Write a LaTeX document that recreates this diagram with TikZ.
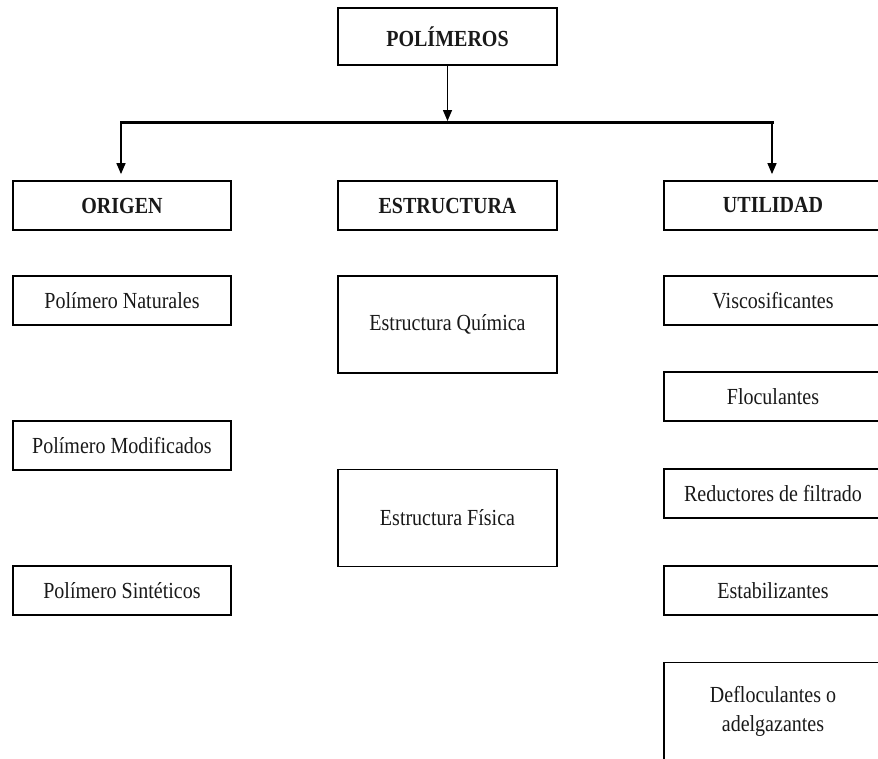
\documentclass[tikz,border=0pt]{standalone}
\usepackage{fontspec}
\setmainfont{Liberation Serif}[FakeStretch=0.87]
\usetikzlibrary{arrows.meta}

\tikzset{
  box/.style={draw=black, line width=1.8pt, fill=white, inner sep=0pt,
    font=\fontsize{23}{29}\selectfont, text=black!90, align=center},
  head/.style={box, font=\fontsize{23}{29}\selectfont\bfseries},
  small/.style={minimum height=49pt},
  tall/.style={minimum height=97pt},
  colw/.style={minimum width=218pt},
  link/.style={line width=1.5pt, -{Triangle[length=11pt,width=9pt]}},
  bar/.style={line width=3pt}
}

\begin{document}
\begin{tikzpicture}[x=1pt,y=-1pt]
  \path[use as bounding box, clip] (0,0) rectangle (878,758);

  % top of the hierarchy
  \node[head, minimum width=219pt, minimum height=57pt] (pol) at (447.5,36.5) {POLÍMEROS};

  % three main branches
  \node[head, colw, small] (origen) at (122,205.5) {ORIGEN};
  \node[head, colw, small, minimum width=219pt] (estr) at (447.5,205.5) {ESTRUCTURA};
  \node[head, colw, small] (util) at (773,205.5) {UTILIDAD};

  % origin column
  \node[box, colw, small] (nat) at (122,300.5) {Polímero Naturales};
  \node[box, colw, small] (mod) at (122,445.5) {Polímero Modificados};
  \node[box, colw, small] (sin) at (122,590.5) {Polímero Sintéticos};

  % structure column
  \node[box, colw, tall, minimum width=219pt] (qui) at (447.5,324.5) {Estructura Química};
  \node[box, colw, tall, minimum width=219pt] (fis) at (447.5,518) {Estructura Física};

  % use column
  \node[box, colw, small] (vis) at (773,300.5) {Viscosificantes};
  \node[box, colw, small] (flo) at (773,396.5) {Floculantes};
  \node[box, colw, small] (red) at (773,493.5) {Reductores de filtrado};
  \node[box, colw, small] (est) at (773,590.5) {Estabilizantes};
  \node[box, colw, tall] (def) at (773,711) {Defloculantes o\\adelgazantes};

  % connectors
  \coordinate (hm) at (447.5,121);
  \coordinate (hl) at (121,122);
  \coordinate (hr) at (772,122);
  \draw[link] (pol.south) -- (hm);
  \draw[bar, line cap=rect] (hl) -- (hr);
  \draw[link, shorten >=6pt] (hl) -- (hl |- origen.north);
  \draw[link, shorten >=6pt] (hr) -- (hr |- util.north);
\end{tikzpicture}
\end{document}
